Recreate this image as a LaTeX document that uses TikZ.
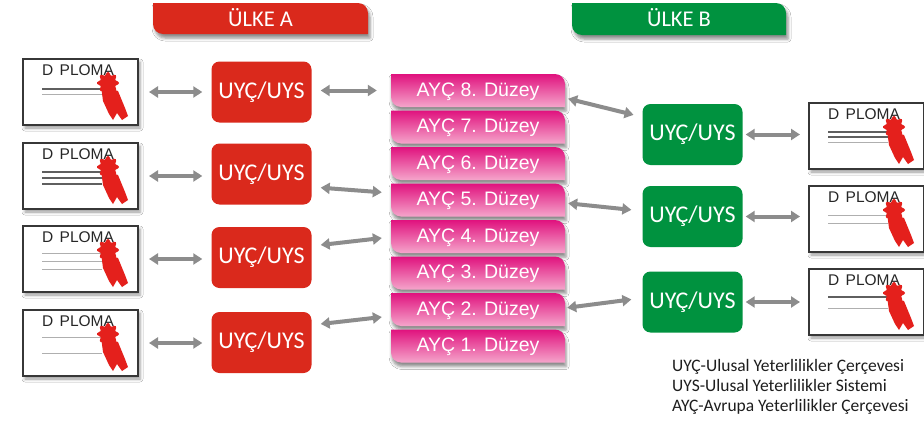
\documentclass[tikz,border=0pt]{standalone}
\usepackage{fontspec}
\setmainfont{Liberation Sans}
\newfontfamily\cfont{Carlito}
\usetikzlibrary{arrows.meta,shadows.blur}
\definecolor{boxred}{RGB}{218,41,28}
\definecolor{boxgreen}{RGB}{0,146,63}
\definecolor{pinktop}{RGB}{224,18,126}
\definecolor{pinkbot}{RGB}{245,165,203}
\definecolor{arrowgray}{RGB}{140,140,140}
\definecolor{dipborder}{RGB}{55,55,55}
\definecolor{sealred}{RGB}{228,32,28}
\definecolor{legendtext}{RGB}{30,30,30}
\definecolor{linedark}{RGB}{95,95,95}
\definecolor{linelight}{RGB}{175,175,175}
\tikzset{
  biarrow/.style={draw=arrowgray, line width=4pt,
    {Triangle[length=9pt,width=11pt]}-{Triangle[length=9pt,width=11pt]}},
  nbox/.style={rounded corners=8pt, minimum width=100pt, minimum height=61pt,
    inner sep=0pt, text=white, font=\cfont\fontsize{24}{26}\selectfont},
  redbox/.style={nbox, fill=boxred},
  greenbox/.style={nbox, fill=boxgreen},
  dipframe/.style={draw=dipborder, line width=2pt, fill=white, minimum width=115pt,
    minimum height=66pt, inner sep=0pt,
    blur shadow={shadow xshift=2pt, shadow yshift=-3pt, shadow opacity=40, shadow blur radius=3pt}},
  diptext/.style={inner sep=0pt, text=black!85, font=\fontsize{15.5}{17}\selectfont},
  ayctext/.style={inner sep=0pt, text=white, font=\fontsize{19.5}{21}\selectfont},
  aycframe/.style={minimum width=174pt, minimum height=33pt, inner sep=0pt},
  hdrtext/.style={inner sep=0pt, text=white, font=\cfont\fontsize{22.5}{24}\selectfont},
  legtext/.style={inner sep=0pt, text=legendtext, font=\cfont\fontsize{17.5}{19}\selectfont},
  lightl/.style={draw=linelight, line width=1pt},
  darkl/.style={draw=linedark, line width=1.3pt},
}
\newcommand\sealat[2]{%
  \fill[sealred] (#1-7,#2+3) -- (#1-5,#2+18) -- (#1+1,#2+31) -- (#1+5,#2+37) -- (#1+9,#2+30)
    -- (#1+14,#2+37) -- (#1+20,#2+33) -- (#1+17,#2+25) -- (#1+10,#2+8) -- cycle;
  \fill[sealred] plot[smooth cycle, samples=41, domain=0:351]
    ({#1+(9.5+1.6*cos(8*\x))*cos(\x)},{#2+(9.5+1.6*cos(8*\x))*sin(\x)});
}
\newcommand\dipbox[4]{%
  \node[dipframe, anchor=north west] (#1) at (#2,#3) {};
  \node[diptext, anchor=base west] (#1t) at (#2+20,#3+17) {D\hspace{2pt} PLOMA};
  \foreach \c/\o in {#4}{\draw[\c] (#2+20,#3+\o) -- (#2+80,#3+\o);}
  \sealat{#2+86}{#3+25}
}
\newcommand\aycbox[3]{%
  \path[top color=pinktop, bottom color=pinkbot,
    blur shadow={shadow xshift=1pt, shadow yshift=-4pt, shadow opacity=45, shadow blur radius=3pt}]
    (391,#2) -- (555,#2) .. controls (560.5,#2) and (565,#2+4.5) .. (565,#2+10)
    -- (565,#2+33) -- (401,#2+33) .. controls (395.5,#2+33) and (391,#2+28.5) .. (391,#2+23) -- cycle;
  \node[aycframe] (#1) at (478,#2+16.5) {};
  \node[ayctext, anchor=base] (#1t) at (478,#2+22) {AYÇ #3. Düzey};
}
\newcommand\hdrbox[7]{%
  \path[fill=#6,
    blur shadow={shadow xshift=2pt, shadow yshift=-4pt, shadow opacity=45, shadow blur radius=3pt}]
    (#2,#3) -- (#4-10,#3) .. controls (#4-4.5,#3) and (#4,#3+4.5) .. (#4,#3+10)
    -- (#4,#5) -- (#2+10,#5) .. controls (#2+4.5,#5) and (#2,#5-4.5) .. (#2,#5-10) -- cycle;
  \node[hdrtext, anchor=base] (#1) at ({(#2+#4)/2},27) {#7};
}
\begin{document}
\begin{tikzpicture}[x=1pt,y=-1pt]
\useasboundingbox (0,0) rectangle (924,423);
\clip (0,0) rectangle (924,423);
\fill[white] (0,0) rectangle (924,423);

% headers
\hdrbox{ha}{153}{3}{368}{34}{boxred}{ÜLKE A}
\hdrbox{hb}{572}{3}{786}{35}{boxgreen}{ÜLKE B}

% left diplomas
\dipbox{dl1}{22}{58}{darkl/31,lightl/36}
\dipbox{dl2}{22}{142}{darkl/30,darkl/36,darkl/42}
\dipbox{dl3}{22}{225}{lightl/28,lightl/36,lightl/44}
\dipbox{dl4}{22}{309}{lightl/28,lightl/44}

% right diplomas
\dipbox{dr1}{808}{102}{darkl/30,darkl/35,lightl/40}
\dipbox{dr2}{808}{185}{lightl/30,lightl/38}
\dipbox{dr3}{808}{268}{darkl/29,lightl/40}

% red boxes
\node[redbox] (r1) at (261.5,92) {UYÇ/UYS};
\node[redbox] (r2) at (261.5,174) {UYÇ/UYS};
\node[redbox] (r3) at (261.5,257.5) {UYÇ/UYS};
\node[redbox] (r4) at (261.5,342.5) {UYÇ/UYS};

% green boxes
\node[greenbox] (g1) at (692.5,134.5) {UYÇ/UYS};
\node[greenbox] (g2) at (692.5,216.5) {UYÇ/UYS};
\node[greenbox] (g3) at (692.5,302) {UYÇ/UYS};

% AYC levels
\aycbox{p8}{74}{8}
\aycbox{p7}{110.5}{7}
\aycbox{p6}{147}{6}
\aycbox{p5}{183.5}{5}
\aycbox{p4}{220}{4}
\aycbox{p3}{256.5}{3}
\aycbox{p2}{293}{2}
\aycbox{p1}{329.5}{1}

% arrows: diplomas - red
\foreach \i in {1,2,3,4}{
  \draw[biarrow, shorten <=10pt, shorten >=9pt] (dl\i.east) -- (dl\i.east -| r\i.west);
}
% red - AYC
\draw[biarrow, shorten <=9pt, shorten >=14pt] (r1.east |- p8.west) -- (p8.west);
\draw[biarrow, shorten <=9pt, shorten >=9pt] ([yshift=-13pt]r2.east) -- ([yshift=7pt]p5.west);
\draw[biarrow, shorten <=9pt, shorten >=9pt] ([yshift=11.5pt]r3.east) -- ([yshift=-0.5pt]p4.west);
\draw[biarrow, shorten <=9pt, shorten >=9pt] ([yshift=17.5pt]r4.east) -- ([yshift=-6.5pt]p2.west);
% AYC - green
\draw[biarrow, shorten <=3pt, shorten >=9pt] ([yshift=-7.5pt]p8.east) -- ([yshift=17.5pt]g1.west);
\draw[biarrow, shorten <=3pt, shorten >=11pt] ([yshift=-3pt]p5.east) -- ([yshift=5.5pt]g2.west);
\draw[biarrow, shorten <=2pt, shorten >=11pt] ([yshift=1.5pt]p2.east) -- ([yshift=4pt]g3.west);
% green - diplomas
\draw[biarrow, shorten <=3pt, shorten >=8pt] (g1.east) -- (g1.east -| dr1.west);
\draw[biarrow, shorten <=3pt, shorten >=8pt] (g2.east) -- (g2.east -| dr2.west);
\draw[biarrow, shorten <=3pt, shorten >=8pt] (g3.east) -- (g3.east -| dr3.west);

% legend
\node[legtext, anchor=base west] (l1) at (672,371) {UYÇ-Ulusal Yeterlilikler Çerçevesi};
\node[legtext, anchor=base west] (l2) at (672,391) {UYS-Ulusal Yeterlilikler Sistemi};
\node[legtext, anchor=base west] (l3) at (672,411) {AYÇ-Avrupa Yeterlilikler Çerçevesi};
\end{tikzpicture}
\end{document}
